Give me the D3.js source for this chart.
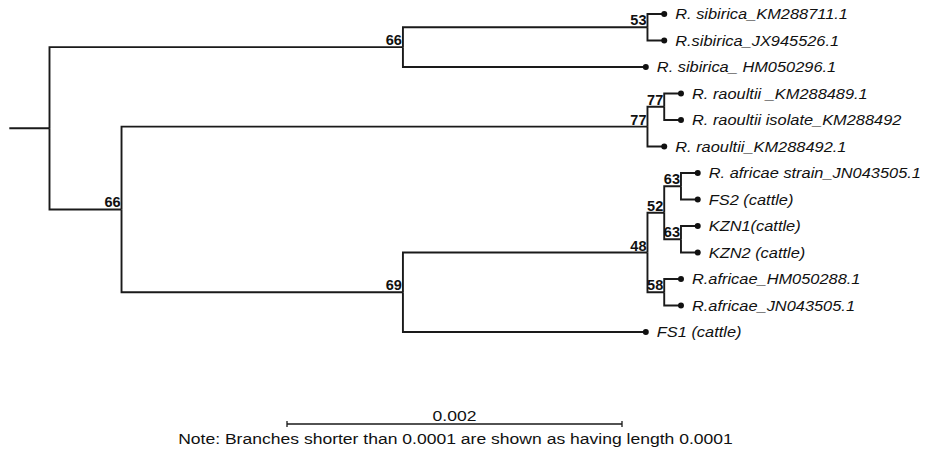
<!DOCTYPE html>
<html>
<head>
<meta charset="utf-8">
<script src="https://cdn.jsdelivr.net/npm/d3@7"></script>
<style>
  body { margin: 0; background: #fff; }
  .leaf { font-family: "Liberation Sans", Arial, sans-serif; font-style: italic; font-size: 14.5px; fill: #111; }
  .boot { font-family: "Liberation Sans", Arial, sans-serif; font-weight: bold; font-size: 14.5px; fill: #111; }
  .note { font-family: "Liberation Sans", Arial, sans-serif; font-size: 15px; fill: #111; }
</style>
</head>
<body>
<div id="tree"></div>
<script>
// tip labels, top to bottom
var taxa = ["R. sibirica_KM288711.1", "R.sibirica_JX945526.1", "R. sibirica_ HM050296.1",
  "R. raoultii _KM288489.1", "R. raoultii isolate_KM288492", "R. raoultii_KM288492.1",
  "R. africae strain_JN043505.1", "FS2 (cattle)", "KZN1(cattle)", "KZN2 (cattle)",
  "R.africae_HM050288.1", "R.africae_JN043505.1", "FS1 (cattle)"];

// node ids, parents, branch lengths (subst./site) and bootstrap support
var nodeIds   = ["root","sib","sib53","t0","t1","t2","B","rao77","rao77b","t3","t4","t5",
                 "af69","af48","af52","af63a","t6","t7","af63b","t8","t9","af58","t10","t11","t12"];
var parentIds = ["","root","sib","sib53","sib53","sib","root","B","rao77","rao77b","rao77b","rao77",
                 "B","af69","af48","af52","af63a","af63a","af52","af63b","af63b","af48","af58","af58","af69"];
var lengths   = [0, 0.00211, 0.00146, 0.0001, 0.0001, 0.00145, 0.00043, 0.00314, 0.0001, 0.0001, 0.0001, 0.0001,
                 0.00168, 0.00146, 0.0001, 0.0001, 0.0001, 0.0001, 0.0001, 0.0001, 0.0001, 0.0001, 0.0001, 0.0001, 0.00145];
var support   = [null, 66, 53, null, null, null, 66, 77, 77, null, null, null,
                 69, 48, 52, 63, null, null, 63, null, null, 58, null, null, null];
var rootStub = 0.00024;
var scaleBarValue = 0.002;
var noteText = "Note: Branches shorter than 0.0001 are shown as having length 0.0001";

var width = 925, height = 450;
var leafStretch = 1.13, noteStretch = 1.17; // the original image is a bit wider than tall

var x = d3.scaleLinear()
    .domain([0, scaleBarValue])
    .range([49.5, 384.5]);

var y = d3.scaleLinear()
    .domain([0, taxa.length - 1])
    .range([14, 332]);

var rows = nodeIds.map(function(id, i) {
  return {id: id, parent: parentIds[i], length: lengths[i], support: support[i]};
});

var root = d3.stratify()
    .id(function(d) { return d.id; })
    .parentId(function(d) { return d.parent || null; })(rows);

// cumulative distance from root
root.eachBefore(function(n) {
  n.dist = n.parent ? n.parent.dist + n.data.length : 0;
});

// leaf order, internal nodes at midpoint of children
var leafIdx = 0;
root.eachAfter(function(n) {
  if (!n.children) {
    n.row = leafIdx++;
  } else {
    n.row = (n.children[0].row + n.children[n.children.length - 1].row) / 2;
  }
});

var svg = d3.select("#tree").append("svg")
    .attr("width", width)
    .attr("height", height);

var g = svg.append("g");

// root stub
g.append("line")
    .attr("x1", x(-rootStub)).attr("x2", x(0))
    .attr("y1", y(root.row)).attr("y2", y(root.row))
    .attr("stroke", "#1a1a1a")
    .attr("stroke-width", 1.9);

g.selectAll("path.branch")
    .data(root.links())
  .enter().append("path")
    .attr("class", "branch")
    .attr("fill", "none")
    .attr("stroke", "#1a1a1a")
    .attr("stroke-width", 1.9)
    .attr("d", function(l) {
      return "M" + x(l.source.dist) + "," + y(l.source.row) +
             "V" + y(l.target.row) + "H" + x(l.target.dist);
    });

var leaves = root.leaves();

g.selectAll("circle.tip")
    .data(leaves)
  .enter().append("circle")
    .attr("class", "tip")
    .attr("cx", function(d) { return x(d.dist); })
    .attr("cy", function(d) { return y(d.row); })
    .attr("r", 3)
    .attr("fill", "#111");

g.selectAll("text.leaf")
    .data(leaves)
  .enter().append("text")
    .attr("class", "leaf")
    .attr("transform", function(d) {
      return "translate(" + (x(d.dist) + 11) + "," + (y(d.row) + 5) + ") scale(" + leafStretch + ",1)";
    })
    .text(function(d) { return taxa[d.row]; });

g.selectAll("text.boot")
    .data(root.descendants().filter(function(d) { return d.data.support != null; }))
  .enter().append("text")
    .attr("class", "boot")
    .attr("text-anchor", "end")
    .attr("x", function(d) { return x(d.dist) - 1; })
    .attr("y", function(d) { return y(d.row) - 2; })
    .text(function(d) { return d.data.support; });

// scale bar
var barLeft = 287;
var barW = x(scaleBarValue) - x(0);
var bar = svg.append("g").attr("transform", "translate(" + barLeft + ",424)");
bar.append("path")
    .attr("fill", "none")
    .attr("stroke", "#1a1a1a")
    .attr("stroke-width", 1.3)
    .attr("d", "M0,-3V3M0,0H" + barW + "M" + barW + ",-3V3");
bar.append("text")
    .attr("class", "note")
    .attr("transform", "translate(" + (barW / 2) + ",-3) scale(" + noteStretch + ",1)")
    .attr("text-anchor", "middle")
    .text(scaleBarValue);

svg.append("text")
    .attr("class", "note")
    .attr("transform", "translate(" + (barLeft + barW / 2 + 1) + ",444) scale(" + noteStretch + ",1)")
    .attr("text-anchor", "middle")
    .text(noteText);
</script>
</body>
</html>
